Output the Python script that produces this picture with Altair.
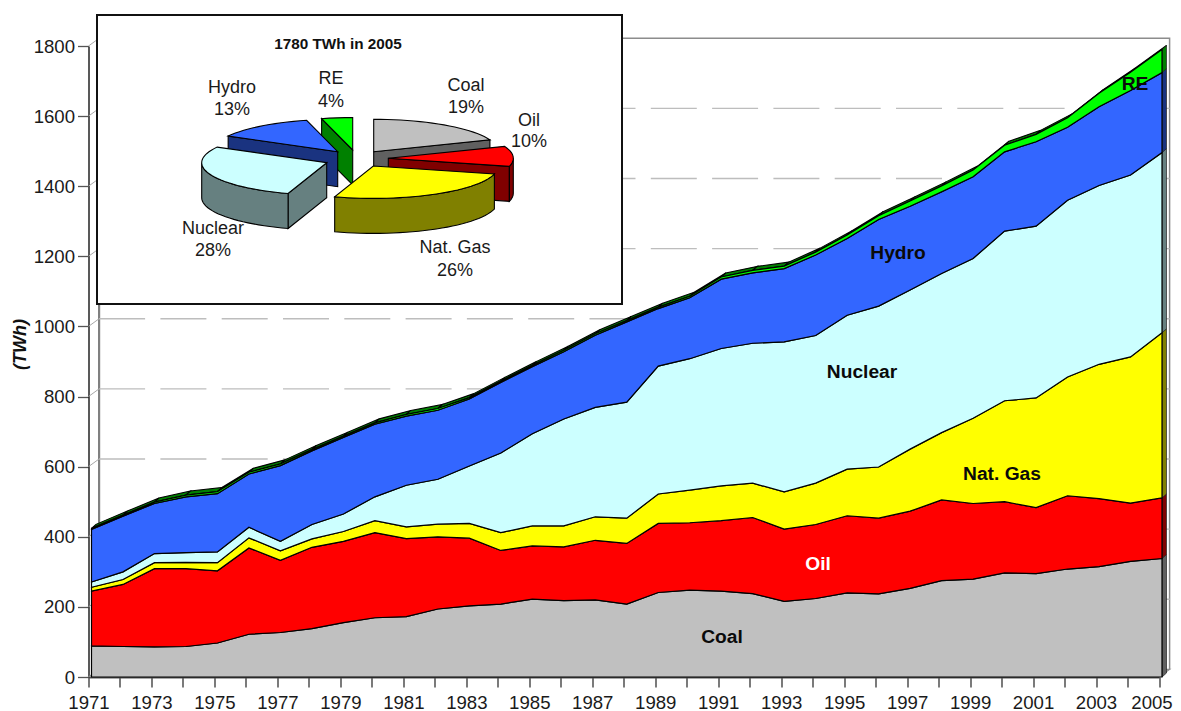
import math
import altair as alt
import pandas as pd

years = list(range(1971, 2006))
coal_top = [89,87,86,87,97,122,127,138,155,169,172,194,203,208,222,218,220,208,241,248,245,238,216,224,240,237,253,275,279,297,295,308,315,330,338]
oil_top = [245,264,309,309,303,368,333,370,387,412,395,400,396,361,374,371,390,381,438,440,446,455,422,435,460,453,473,505,495,500,483,517,509,496,511]
gas_top = [256,278,326,327,326,397,360,394,415,446,428,436,438,412,431,431,457,453,522,533,545,553,528,553,593,599,650,697,738,788,796,856,892,913,982]
nuclear_top = [271,300,352,355,357,427,387,435,465,514,547,564,602,639,694,736,769,784,887,908,937,952,956,974,1032,1058,1104,1151,1194,1272,1286,1360,1402,1432,1496]
hydro_top = [421,459,495,514,523,579,603,645,683,721,744,761,793,840,885,928,975,1013,1051,1082,1135,1153,1165,1204,1251,1305,1343,1384,1427,1498,1527,1568,1627,1673,1724]
re_top = [424,462,499,519,529,584,608,649,687,725,749,766,797,844,889,932,979,1017,1055,1086,1141,1160,1172,1212,1261,1316,1358,1401,1446,1517,1548,1595,1665,1725,1790]
y_ticks = [0,200,400,600,800,1000,1200,1400,1600,1800]

pie_names = ["Coal", "Oil", "Nat. Gas", "Nuclear", "Hydro", "RE"]
pie_shares = [19, 10, 26, 28, 13, 4]
pie_total = 1780

top_colors = ["#c0c0c0", "#ff0000", "#ffff00", "#ccffff", "#3366ff", "#00ff00"]
side_colors = ["#606060", "#800000", "#808000", "#668080", "#1a3380", "#008000"]
FONT = "Liberation Sans"

# layout: plot origin on the page
X0, X1 = 88.5, 1159.0
Y0, Y1 = 677.0, 46.0
W, H = X1 - X0, Y0 - Y1
SX = W / 34.0
SY = H / 1800.0


def yr(px):
    return 1971 + (px - X0) / SX


def val(py):
    return (Y0 - py) / SY


FRONT = 3.0 / SX          # areas start just right of the axis
DX3, DY3 = 4.5 / SX, 4.0 / SY      # depth of the stacked block
DXW, DYW = 10.6 / SX, 7.7 / SY     # depth of the back wall

xs = alt.Scale(domain=[1971, 2005], nice=False, zero=False)
ys = alt.Scale(domain=[0, 1800], nice=False, zero=False)
x_axis = alt.Axis(
    values=years, title=None, grid=False, format="d", labelOverlap=False,
    labelExpr="datum.value % 2 == 1 ? datum.label : ''", labelFont=FONT, labelFontSize=18.6,
    labelOffset=alt.expr("datum.value == 2005 ? -7.5 : 0"),
    labelColor="#1a1a1a", labelPadding=6, labelFlush=False, tickSize=10, tickColor="#333333", tickWidth=1.3,
    domainColor="#555555", domainWidth=2)
y_axis = alt.Axis(
    values=y_ticks, title="(TWh)", grid=False, format="d", labelFont=FONT, labelFontSize=18.6,
    labelColor="#1a1a1a", labelPadding=3, tickSize=11, tickColor="#555555", tickWidth=1.3,
    domainColor="#222222", domainWidth=1.5, titleFont=FONT, titleFontSize=18, titleFontWeight="bold",
    titleFontStyle="italic", titleColor="#111111", titleAngle=270, titleAlign="center",
    titleBaseline="middle", titleX=-68, titleY=298)
X = alt.X("x:Q", scale=xs, axis=x_axis)
Y = alt.Y("y:Q", scale=ys, axis=y_axis)


def poly(points, fill, stroke="black", sw=1.1):
    df = pd.DataFrame({"x": [p[0] for p in points], "y": [p[1] for p in points], "i": range(len(points))})
    return alt.Chart(df).mark_line(interpolate="linear-closed", fill=fill, stroke=stroke, strokeWidth=sw).encode(
        x=X, y=Y, order=alt.Order("i:Q"))


def path(points, color, sw, **kw):
    df = pd.DataFrame({"x": [p[0] for p in points], "y": [p[1] for p in points], "i": range(len(points))})
    return alt.Chart(df).mark_line(color=color, strokeWidth=sw, **kw).encode(x=X, y=Y, order=alt.Order("i:Q"))


def texts(rows, size, color="#111111", bold=False):
    df = pd.DataFrame([{"x": yr(r[1]), "y": val(r[2]), "t": r[0]} for r in rows])
    return alt.Chart(df).mark_text(font=FONT, fontSize=size, fontWeight="bold" if bold else "normal",
                                   color=color, align="center", baseline="middle").encode(x=X, y=Y, text="t:N")


layers = []

# axes + back wall
wall = [(1971 + DXW, DYW), (1971 + DXW, 1800 + DYW), (2005 + DXW, 1800 + DYW), (2005 + DXW, DYW)]
layers.append(path(wall, "#8c8c8c", 1.5))
layers.append(path([wall[0], wall[1]], "#808080", 2.2))
layers.append(path([(1971, 0), (1971 + DXW, DYW), (2005 + DXW, DYW), (2005, 0)], "#8c8c8c", 1.2))

# dashed grid on the back wall and short connectors to the axis
grid_rows, conn_rows = [], []
for v in y_ticks[1:-1]:
    grid_rows += [{"x": 1971 + DXW, "y": v + DYW, "v": v, "i": 0}, {"x": 2005 + DXW, "y": v + DYW, "v": v, "i": 1}]
for v in y_ticks[1:]:
    conn_rows += [{"x": 1971, "y": v, "v": v, "i": 0}, {"x": 1971 + DXW, "y": v + DYW, "v": v, "i": 1}]
layers.append(alt.Chart(pd.DataFrame(grid_rows)).mark_line(color="#bdbdbd", strokeWidth=1.4, strokeDash=[46, 15.3]).encode(
    x=X, y=Y, detail="v:N", order=alt.Order("i:Q")))
layers.append(alt.Chart(pd.DataFrame(conn_rows)).mark_line(color="#a8a8a8", strokeWidth=1).encode(
    x=X, y=Y, detail="v:N", order=alt.Order("i:Q")))

# top face of the block, one quad per year step
band = []
for k in range(len(years) - 1):
    a, b = years[k] + FRONT, years[k + 1] + FRONT
    quad = [(a, re_top[k]), (b, re_top[k + 1]), (b + DX3, re_top[k + 1] + DY3), (a + DX3, re_top[k] + DY3)]
    for i, p in enumerate(quad):
        band.append({"x": p[0], "y": p[1], "s": k, "i": i})
layers.append(alt.Chart(pd.DataFrame(band)).mark_line(interpolate="linear-closed", fill="#008000", stroke="black", strokeWidth=1.1).encode(
    x=X, y=Y, detail="s:N", order=alt.Order("i:Q")))

# stacked areas and right side faces
tops = [coal_top, oil_top, gas_top, nuclear_top, hydro_top, re_top]
for n, top in enumerate(tops):
    low = [0] * len(years) if n == 0 else tops[n - 1]
    xr = 2005 + FRONT
    layers.append(poly([(xr, low[-1]), (xr, top[-1]), (xr + DX3, top[-1] + DY3), (xr + DX3, low[-1] + DY3)],
                       side_colors[n], "#222222", 0.7))
for n, top in enumerate(tops):
    low = [0] * len(years) if n == 0 else tops[n - 1]
    df = pd.DataFrame({"x": [v + FRONT for v in years], "y": top, "y2": low})
    layers.append(alt.Chart(df).mark_area(orient="vertical", fill=top_colors[n], stroke="black", strokeWidth=1.2, opacity=1).encode(
        x=X, y=Y, y2="y2:Q"))

layers.append(texts([("Coal", 722, 637), ("Nat. Gas", 1002, 474), ("Nuclear", 862, 372), ("Hydro", 898, 253), ("RE", 1135, 84)], 19.2, "#0a0a0a", True))
layers.append(texts([("Oil", 818, 564)], 19.2, "#ffffff", True))

# inset box
layers.append(poly([(yr(97), val(15)), (yr(622), val(15)), (yr(622), val(304)), (yr(97), val(304))], "#ffffff", "#111111", 2))

# inset exploded 3-D pie built from the shares
RX, RY, DEPTH = 125.0, 32.4, 35.0
cum = [0]
for s in pie_shares:
    cum.append(cum[-1] + s * 3.6)
apex = {"Coal": (373.7, 151.7), "Oil": (388.3, 158.3), "Nat. Gas": (373.3, 166), "Nuclear": (326.7, 162.7), "Hydro": (337.7, 151.7), "RE": (352.7, 150)}


def rim(name, deg):
    cx, cy = apex[name]
    t = math.radians(deg)
    return (cx + RX * math.sin(t), cy - RY * math.cos(t))


def arc_pts(name, a, b):
    n = max(2, int(abs(b - a) / 3))
    return [rim(name, a + (b - a) * i / n) for i in range(n + 1)]


def to_data(pts):
    return [(yr(p[0]), val(p[1])) for p in pts]


def radial_face(name, deg, color):
    cx, cy = apex[name]
    rx, ry = rim(name, deg)
    return poly(to_data([(cx, cy), (rx, ry), (rx, ry + DEPTH), (cx, cy + DEPTH)]), color)


def wall_face(name, a, b, color):
    pts = arc_pts(name, a, b)
    low = [(p[0], p[1] + DEPTH) for p in reversed(pts)]
    return poly(to_data(pts + low), color)


def top_face(name, a, b, color):
    return poly(to_data([apex[name]] + arc_pts(name, a, b)), color)


idx = {n: i for i, n in enumerate(pie_names)}


def span(n):
    i = idx[n]
    return cum[i], cum[i + 1]


# coal
layers.append(radial_face("Coal", span("Coal")[1], side_colors[0]))
layers.append(top_face("Coal", *span("Coal"), top_colors[0]))
# RE
layers.append(radial_face("RE", span("RE")[0], side_colors[5]))
layers.append(top_face("RE", *span("RE"), top_colors[5]))
# hydro
layers.append(radial_face("Hydro", span("Hydro")[0], side_colors[4]))
layers.append(top_face("Hydro", *span("Hydro"), top_colors[4]))
# oil
layers.append(radial_face("Oil", span("Oil")[1], side_colors[1]))
layers.append(wall_face("Oil", 90, span("Oil")[1], side_colors[1]))
layers.append(top_face("Oil", *span("Oil"), top_colors[1]))
# nuclear
layers.append(radial_face("Nuclear", span("Nuclear")[0], side_colors[3]))
layers.append(wall_face("Nuclear", span("Nuclear")[0], 270, side_colors[3]))
layers.append(top_face("Nuclear", *span("Nuclear"), top_colors[3]))
# gas
layers.append(wall_face("Nat. Gas", *span("Nat. Gas"), side_colors[2]))
layers.append(top_face("Nat. Gas", *span("Nat. Gas"), top_colors[2]))

label_pos = {"Hydro": (232, 88, 110), "RE": (331, 79, 101.7), "Coal": (466, 86, 108),
             "Oil": (529, 120.7, 142), "Nat. Gas": (455, 248, 270.7), "Nuclear": (213, 229, 250.7)}
rows = []
for name, share in zip(pie_names, pie_shares):
    cx, y1, y2 = label_pos[name]
    rows += [(name, cx, y1), (f"{share}%", cx, y2)]
layers.append(texts(rows, 18, "#1a1a1a"))
layers.append(texts([(f"{pie_total} TWh in 2005", 338, 44)], 15.3, "#111111", True))

chart = alt.layer(*layers).properties(
    width=W, height=H,
    autosize=alt.AutoSizeParams(type="none"),
    padding={"left": X0 - 8, "top": Y1 - 8, "right": 14, "bottom": 26},
    background="white",
).configure_view(stroke=None)

chart = chart.properties(padding={"left": X0 - 8, "top": Y1 - 8, "right": 14, "bottom": 34})

chart.save("out.html", embed_options={"renderer": "svg", "actions": False})
